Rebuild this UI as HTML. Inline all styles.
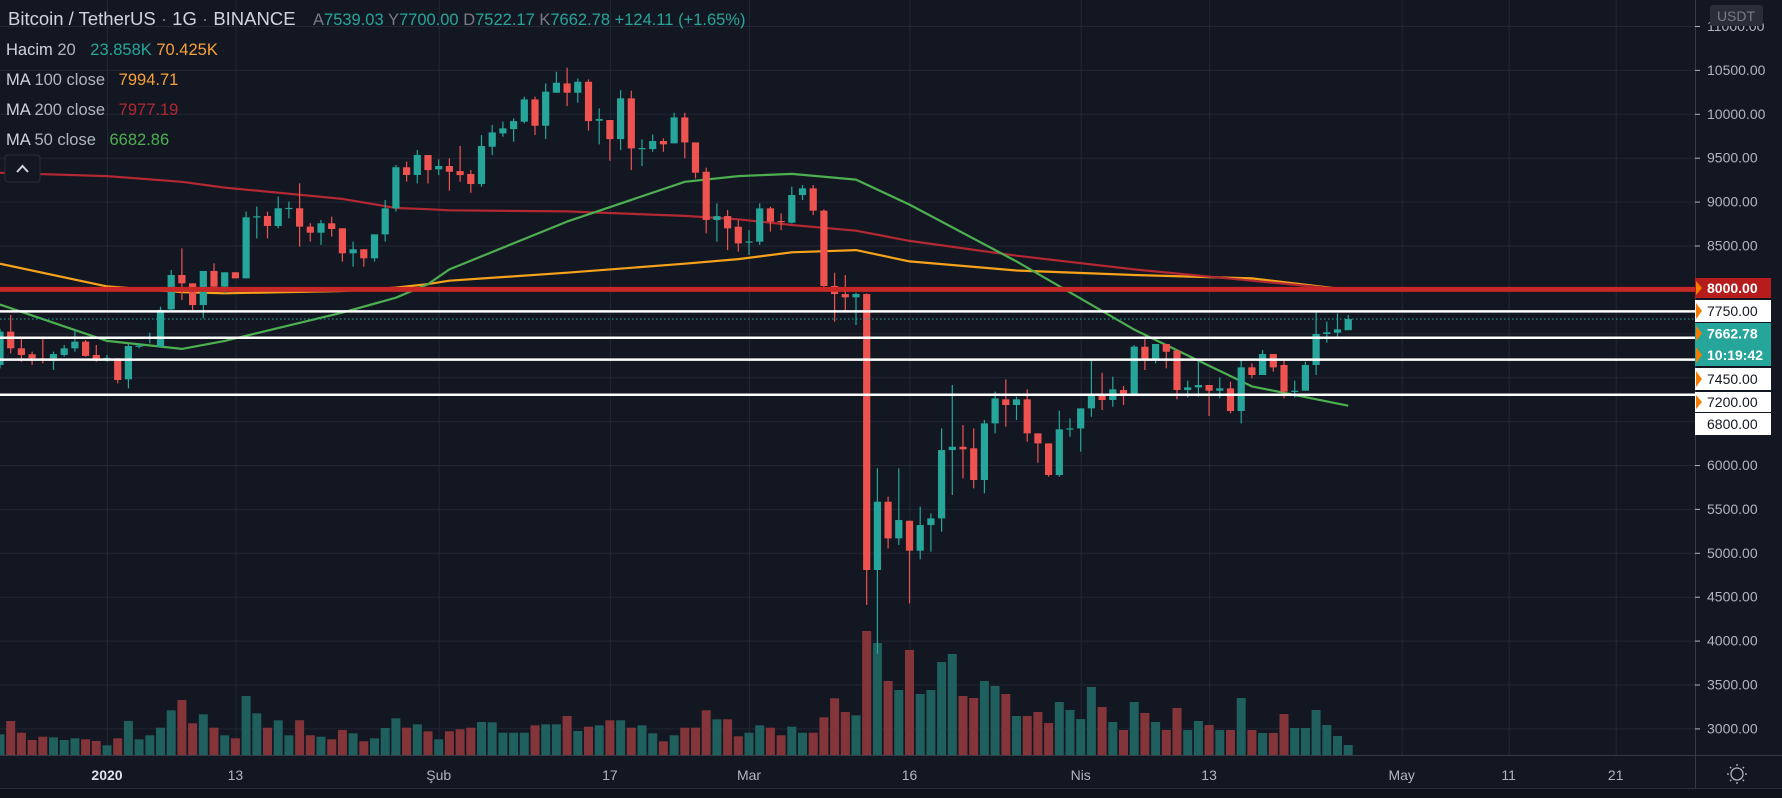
<!DOCTYPE html>
<html><head><meta charset="utf-8">
<style>
html,body{margin:0;padding:0;background:#131722;}
svg{display:block;font-family:"Liberation Sans",sans-serif;}
</style></head>
<body>
<svg id="chart" width="1782" height="798" xmlns="http://www.w3.org/2000/svg">
<rect x="0" y="0" width="1782" height="798" fill="#131722"/>
<g id="grid"></g>
<g id="volumes"></g>
<g id="mas"></g>
<g id="candles"></g>
<g id="drawings"></g>
<rect x="1695" y="0" width="87" height="798" fill="#131722"/>
<line x1="1695.5" y1="0" x2="1695.5" y2="788" stroke="#363a45"/>
<rect x="0" y="756" width="1695" height="32" fill="#131722"/>
<line x1="0" y1="755.5" x2="1782" y2="755.5" stroke="#363a45"/>
<rect x="0" y="788" width="1782" height="10" fill="#0f121a"/>
<line x1="0" y1="788.5" x2="1782" y2="788.5" stroke="#2a2e39"/>
<g id="yaxis"></g>
<g id="xaxis"></g>
<g id="axisboxes"></g>

<g>
<text x="8" y="25" font-size="18.5" fill="#d1d4dc">Bitcoin / TetherUS <tspan fill="#787b86">·</tspan> 1G <tspan fill="#787b86">·</tspan> BINANCE</text>
<text x="313" y="25" font-size="16.5" fill="#26a69a"><tspan fill="#787b86">A</tspan>7539.03 <tspan fill="#787b86">Y</tspan>7700.00 <tspan fill="#787b86">D</tspan>7522.17 <tspan fill="#787b86">K</tspan>7662.78 +124.11 (+1.65%)</text>
<text x="6" y="55" font-size="16.5" fill="#d1d4dc">Hacim <tspan fill="#b2b5be">20</tspan> <tspan dx="10" fill="#26a69a">23.858K</tspan> <tspan fill="#f7a13a">70.425K</tspan></text>
<text x="6" y="85" font-size="16.5" fill="#d1d4dc">MA <tspan fill="#b2b5be">100 close</tspan> <tspan dx="9" fill="#f7a13a">7994.71</tspan></text>
<text x="6" y="115" font-size="16.5" fill="#d1d4dc">MA <tspan fill="#b2b5be">200 close</tspan> <tspan dx="9" fill="#b22833">7977.19</tspan></text>
<text x="6" y="145" font-size="16.5" fill="#d1d4dc">MA <tspan fill="#b2b5be">50 close</tspan> <tspan dx="9" fill="#4caf50">6682.86</tspan></text>
</g>
<g>
<rect x="5" y="155" width="35" height="27" rx="3" fill="#131722" stroke="#2a2e39"/>
<polyline points="17,172 22.5,166 28,172" fill="none" stroke="#d1d4dc" stroke-width="2"/>
</g>
<g>
<rect x="1710" y="5" width="53" height="21" rx="3" fill="#2a2e39"/>
<text x="1736" y="21" font-size="14" fill="#787b86" text-anchor="middle">USDT</text>
</g>
<g transform="translate(1737,774)">
<circle r="6" fill="none" stroke="#b2b5be" stroke-width="1.3"/>
<g stroke="#b2b5be" stroke-width="1.3">
<line x1="0" y1="-8" x2="0" y2="-10"/><line x1="0" y1="8" x2="0" y2="10"/>
<line x1="-8" y1="0" x2="-10" y2="0"/><line x1="8" y1="0" x2="10" y2="0"/>
<line x1="5.7" y1="5.7" x2="7" y2="7"/><line x1="-5.7" y1="-5.7" x2="-7" y2="-7"/>
<line x1="5.7" y1="-5.7" x2="7" y2="-7"/><line x1="-5.7" y1="5.7" x2="-7" y2="7"/>
</g></g>

<script>
// ---- data ----
const firstDay = -10; // day index relative to 2020-01-01
const opens = [7139,7519,7329,7261,7215,7215,7253,7329,7405,7253,
7210,7215,6976,7355,7440,7348,7773,8164,8069,7822,
8210,8031,8195,8126,8825,8836,8722,8920,8924,8715,
8646,8753,8696,8411,8457,8354,8627,8924,9391,9303,
9530,9367,9405,9348,9314,9200,9625,9777,9826,9910,
10164,9864,10240,10346,10240,10365,9921,9929,9712,10176,
9606,9598,9690,9663,9959,9674,9340,8790,8835,8714,
8540,8544,8923,8779,8760,9075,9151,8897,8039,7947,
7910,7947,4804,5582,5164,5365,5024,5316,5392,6170,
6208,6190,5829,6474,6748,6683,6748,6360,6246,5886,
6410,6417,6645,6797,6740,6854,6786,7347,7203,7378,
7302,6854,6884,6911,6846,6873,6615,7112,7025,7264,
7139,6835,6846,7139,7492,7507,7535];
const highs = [7550,7709,7443,7291,7443,7291,7367,7538,7424,7367,
7253,7215,7386,7386,7507,7803,8221,8468,8069,8210,
8297,8195,8195,8886,8943,8886,9057,9000,9208,8753,
8791,8829,8696,8544,8457,8627,9019,9417,9455,9588,
9530,9481,9492,9633,9359,9758,9872,9910,9948,10195,
10195,10346,10479,10525,10403,10392,10062,9929,10270,10263,
9708,9765,9720,10012,10012,9674,9386,8980,8904,8790,
8676,8980,8942,8866,9170,9189,9189,8912,8190,8164,
7963,7955,5963,5639,5962,5365,5525,5449,6417,6911,
6455,6417,6512,6835,6975,6778,6862,6360,6246,6618,
6531,6645,7196,7051,7006,6900,7366,7461,7378,7378,
7317,6960,7188,6911,6998,6949,7196,7158,7309,7264,
7196,6960,7177,7746,7632,7727,7708];
const lows = [7100,7272,7177,7139,7158,7082,7234,7291,7234,7177,
7177,6930,6873,7329,7386,7348,7766,7879,7766,7671,
8012,7955,8126,8126,8582,8582,8696,8810,8487,8544,
8506,8601,8316,8259,8259,8316,8544,8886,9227,9208,
9207,9302,9124,9226,9101,9169,9530,9739,9682,9891,
9758,9712,10240,10088,10126,9807,9652,9466,9587,9359,
9405,9568,9568,9663,9492,9264,8638,8543,8448,8430,
8392,8506,8658,8676,8752,9018,8847,8012,7632,7746,
7594,4405,3850,5050,5088,4424,4925,5012,5240,5658,
5848,5734,5677,6360,6436,6512,6265,6026,5867,5867,
6322,6152,6550,6626,6664,6683,6786,7082,7158,7101,
6748,6770,6778,6558,6759,6588,6474,6987,7025,7063,
6759,6770,6846,7025,7393,7461,7538];
const closes = [7519,7329,7253,7215,7200,7264,7329,7405,7242,7196,
7220,6968,7355,7360,7450,7766,8164,8069,7822,8210,
8031,8195,8126,8821,8833,8722,8924,8928,8715,8646,
8753,8688,8411,8457,8354,8627,8924,9391,9303,9531,
9359,9405,9340,9302,9200,9633,9788,9834,9917,10164,
9864,10252,10354,10240,10365,9917,9940,9712,10176,9606,
9610,9690,9652,9959,9674,9329,8790,8835,8695,8524,
8546,8923,8771,8771,9075,9151,8897,8039,7947,7910,
7947,4804,5582,5164,5373,5024,5316,5392,6170,6208,
6178,5829,6474,6759,6683,6748,6360,6246,5886,6406,
6417,6645,6797,6740,6862,6797,7348,7203,7378,7290,
6854,6884,6911,6846,6873,6615,7112,7025,7264,7112,
6835,6846,7139,7492,7511,7545,7663];
const volumes = [20.7,34,22.3,15,18.3,17.7,15,16.7,15.7,14,
9.7,16.7,34,15.7,19.7,27.3,44.7,55,31.7,40.7,
27.3,19.7,16.7,59,41.7,27.3,34.7,19.7,34.7,19.7,
18.3,15.7,25,21.7,13.7,16.7,27,36.7,27.3,30.7,
23.7,15.7,23.7,25.7,27.3,33,32.7,22.3,22.3,22.3,
29.7,30.7,30.7,39,24,28.3,29.7,34.7,34.7,27.3,
29.7,21.7,13.7,19.7,27.3,27.3,44.7,35.7,35.7,18.7,
22.3,29.7,27.3,19.7,28.3,22.3,22.3,37.7,56.7,43,
39.7,124,112,74,65,105,61,65,93,101,
59,57,74,69,61,39,39,43,32,53,
45,36,68,48,33,25,53,42,33,25,
47,25,34,30,25,25,57,25,22,22,
41,27,27,45,30,19,10];
const maDays = [-10,0,7,11,22,27,30,32,43,54,59,64,70,75,85,96,107,116];
const ma200 = [9328,9290,9225,9160,9031,8927,8914,8901,8888,8837,8798,8733,8668,8552,8384,8228,8099,7995];
const ma100 = [8293,8034,7969,7956,7982,8021,8060,8099,8190,8293,8345,8422,8448,8319,8215,8164,8125,7995];
const ma50  = [7827,7413,7322,7413,7736,7905,8060,8228,8772,9225,9290,9316,9251,8966,8319,7542,6895,6675];
const priceTicks = [11000,10500,10000,9500,9000,8500,8000,7500,7000,6500,6000,5500,5000,4500,4000,3500,3000];
const priceTickLabels = ["11000.00","10500.00","10000.00","9500.00","9000.00","8500.00","8000.00","7500.00","7000.00","6500.00","6000.00","5500.00","5000.00","4500.00","4000.00","3500.00","3000.00"];
const timeTickDays = [0,12,31,47,60,75,91,103,121,131,141];
const timeTickLabels = ["2020","13","Şub","17","Mar","16","Nis","13","May","11","21"];
const levelPrices = [7750,7450,7200,6800];
const keyLevel = 8000;
const lastPrice = 7662.78;

// ---- scales ----
const X0 = 107, DAY = 10.7;
function xs(d){ return X0 + d*DAY; }
const Y0 = 26, PX = 0.0878;
function ys(p){ return Y0 + (11000 - p)*PX; }
const VBASE = 755, VPX = 1.0;
function vs(v){ return VBASE - v*VPX; }

const NS = "http://www.w3.org/2000/svg";
function mk(tag, attrs, parent){
  const e = document.createElementNS(NS, tag);
  for (const k in attrs) e.setAttribute(k, attrs[k]);
  parent.appendChild(e);
  return e;
}
const UP = "#26a69a", DN = "#ef5350";

// grid
const grid = document.getElementById('grid');
priceTicks.forEach(function(p){
  const l = mk('line', {x1:0, x2:1695, y1:ys(p)+0.5, y2:ys(p)+0.5, stroke:'#232733', 'stroke-width':1}, grid);
  
  
});
timeTickDays.forEach(function(d){
  const l = mk('line', {x1:xs(d)+0.5, x2:xs(d)+0.5, y1:0, y2:755, stroke:'#232733', 'stroke-width':1}, grid);
  
  
});

// volumes
const vg = document.getElementById('volumes');
volumes.forEach(function(v, i){
  const d = firstDay + i;
  const up = closes[i] >= opens[i];
  const r = mk('rect', {x:xs(d)-4.5, y:vs(v), width:9, height:VBASE-vs(v), fill: up ? '#1f5f5d' : '#833539'}, vg);
  
  
});

// moving averages
const mg = document.getElementById('mas');
function maLine(vals, color, name){
  const pts = vals.map(function(v, i){ return xs(maDays[i]).toFixed(1) + ',' + ys(v).toFixed(1); }).join(' ');
  const pl = mk('polyline', {points:pts, fill:'none', stroke:color, 'stroke-width':2.2, 'stroke-linejoin':'round'}, mg);
  
  
}
maLine(ma100, '#f7a21b', 'ma100-line');
maLine(ma200, '#b22833', 'ma200-line');
maLine(ma50, '#4caf50', 'ma50-line');

// candles
const cg = document.getElementById('candles');
opens.forEach(function(o, i){
  const d = firstDay + i;
  const c = closes[i];
  const col = c >= o ? UP : DN;
  const x = xs(d);
  const g = mk('g', {}, cg);
  
  
  mk('line', {x1:x, x2:x, y1:ys(highs[i]), y2:ys(lows[i]), stroke:col, 'stroke-width':1.2}, g);
  const top = ys(Math.max(o, c)), bot = ys(Math.min(o, c));
  mk('rect', {x:x-3.6, y:top, width:7.2, height:Math.max(1.2, bot-top), fill:col}, g);
});

// drawn levels
const dg = document.getElementById('drawings');
const kl = mk('line', {x1:0, x2:1695, y1:ys(keyLevel), y2:ys(keyLevel), stroke:'#c62828', 'stroke-width':5}, dg);


levelPrices.forEach(function(p){
  const l = mk('line', {x1:0, x2:1695, y1:ys(p), y2:ys(p), stroke:'#ffffff', 'stroke-width':2.5}, dg);
  
  
});
const pl = mk('line', {x1:0, x2:1695, y1:ys(lastPrice), y2:ys(lastPrice), stroke:'#26a69a', 'stroke-width':1, 'stroke-dasharray':'1.5,2.5'}, dg);



// y axis
const ya = document.getElementById('yaxis');
priceTicks.forEach(function(p, i){
  const t = mk('line', {x1:1695, x2:1700, y1:ys(p)+0.5, y2:ys(p)+0.5, stroke:'#b2b5be'}, ya);
  
  
  const tx = mk('text', {x:1707, y:ys(p)+5, 'font-size':14, fill:'#b2b5be'}, ya);
  
  
  tx.textContent = priceTickLabels[i];
});

// x axis
const xa = document.getElementById('xaxis');
timeTickDays.forEach(function(d, i){
  const t = mk('text', {x:xs(d), y:780, 'font-size':14, fill: i===0 ? '#e0e3eb' : '#b2b5be', 'font-weight': i===0 ? 'bold' : 'normal', 'text-anchor':'middle'}, xa);
  
  
  t.textContent = timeTickLabels[i];
});

// price-axis annotation boxes
const ab = document.getElementById('axisboxes');
const boxes = [
  {y:278, h:20, bg:'#b71c1c', fg:'#ffffff', t:'8000.00'},
  {y:300, h:22, bg:'#ffffff', fg:'#131722', t:'7750.00'},
  {y:323, h:21, bg:'#26a69a', fg:'#ffffff', t:'7662.78'},
  {y:344, h:22, bg:'#26a69a', fg:'#ffffff', t:'10:19:42'},
  {y:368, h:22, bg:'#ffffff', fg:'#131722', t:'7450.00'},
  {y:392, h:20, bg:'#ffffff', fg:'#131722', t:'7200.00'},
  {y:413, h:22, bg:'#ffffff', fg:'#131722', t:'6800.00'}
];
boxes.forEach(function(b){
  const g = mk('g', {}, ab);
  
  
  mk('rect', {x:1695, y:b.y, width:76, height:b.h, fill:b.bg}, g);
  const t = mk('text', {x:1707, y:b.y+b.h/2+5, 'font-size':14, fill:b.fg, 'font-weight': b.bg==='#ffffff' ? 'normal' : 'bold'}, g);
  t.textContent = b.t;
  if (b.t !== '6800.00') {
    mk('path', {d:'M1696 '+(b.y+3)+' l6 '+(b.h/2-3)+' l-6 '+(b.h/2-3)+' z', fill:'#f57c00'}, g);
  }
});
</script>
</svg>
</body></html>
